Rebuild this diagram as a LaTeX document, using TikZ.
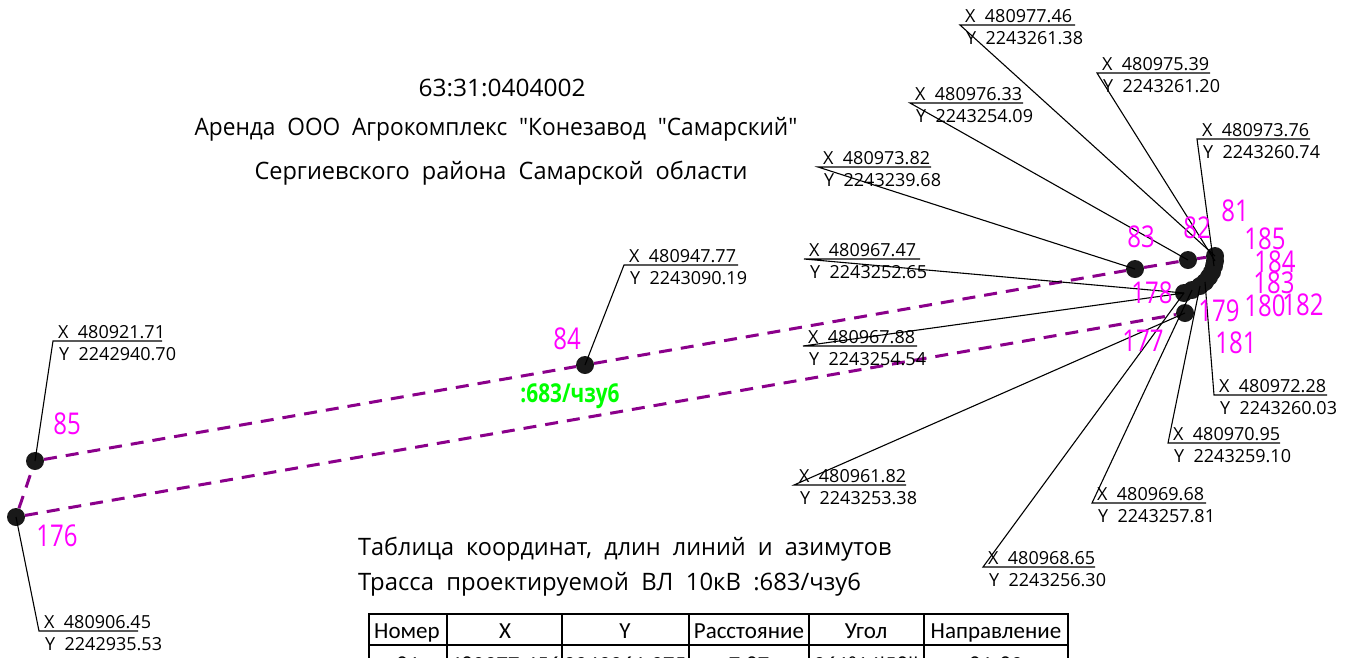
\documentclass[tikz,border=0pt]{standalone}
\usepackage{fontspec}
\setmainfont{Open Sans}
\newfontfamily\cadfont{Open Sans}
\newfontfamily\numfont[FakeStretch=0.8]{Open Sans}
\newfontfamily\cadnumfont[FakeStretch=1.02]{Open Sans}
\newfontfamily\ownerfont[FakeStretch=0.945]{Open Sans}
\newfontfamily\regionfont[FakeStretch=0.98]{Open Sans}
\newfontfamily\tabonefont[FakeStretch=0.976]{Open Sans}
\newfontfamily\tabtwofont[FakeStretch=0.993]{Open Sans}
\newfontfamily\greenfont[FakeStretch=0.8]{Open Sans}
\newfontfamily\tabfont{Carlito}
\definecolor{pinklabel}{RGB}{255,0,255}
\definecolor{purpleline}{RGB}{139,0,139}
\definecolor{greenlabel}{RGB}{0,255,0}
\tikzset{
  dot/.style = {circle, fill = black!90, minimum size = 18pt, inner sep = 0pt},
  num/.style = {text = pinklabel, font = \numfont\fontsize{30}{30}\selectfont, inner sep = 0pt},
  coordtext/.style = {font = \cadfont\fontsize{18}{18}\selectfont, inner sep = 0pt, anchor = base west},
  headline/.style = {inner sep = 0pt, anchor = base},
  tabletitle/.style = {inner sep = 0pt, anchor = base west},
  route/.style = {purpleline, line width = 3pt, dash pattern = on 13pt off 9pt},
  leader/.style = {line width = 1.1pt},
  tableline/.style = {line width = 2.6pt},
  cell/.style = {font = \tabfont\fontsize{23}{23}\selectfont, inner sep = 0pt, anchor = base}
}
\newcommand{\titlesize}{\fontsize{24}{24}\selectfont}
\begin{document}
\begin{tikzpicture}[x = 1pt, y = -1pt]
\useasboundingbox (0,0) rectangle (1355,657);
\clip (0,0) rectangle (1355,657);

% points
\foreach \name/\x/\y in {85/35/461, 176/16/517, 84/585/365, 83/1135/269, 82/1188/260, 177/1185/313,
  81/1215/256, 185/1215/261, 184/1214/266, 183/1212/272, 182/1209/277, 181/1205/282, 180/1200/286, 179/1192/290, 178/1184/293}
   \node[dot] (n\name) at (\x,\y) {};

% route
\draw[route] (n176) -- (n85);
\draw[route] (n85) -- (n84);
\draw[route] (n84) -- (n83);
\draw[route] (n83) -- (n82);
\draw[route] (n82) -- (n81);
\draw[route] (n176) -- (n177);

% leaders to the coordinate labels
\foreach \target/\ex/\ey/\ux/\xtxt/\ytxt in {
  85/53/341/162/480921.71/2242940.70,
  176/39/631/138/480906.45/2242935.53,
  84/624/265/738/480947.77/2243090.19,
  83/818/167/931/480973.82/2243239.68,
  82/910/103/1023/480976.33/2243254.09,
  81/960/25/1075/480977.46/2243261.38,
  185/1097/73/1210/480975.39/2243261.20,
  184/1197/139/1310/480973.76/2243260.74,
  178/804/259/920/480967.47/2243252.65,
  178/803/346/917/480967.88/2243254.54,
  181/1214/395/1327/480972.28/2243260.03,
  180/1168/443/1280/480970.95/2243259.10,
  179/1092/503/1206/480969.68/2243257.81,
  178/983/567/1095/480968.65/2243256.30,
  177/794/485/906/480961.82/2243253.38}{
   \coordinate (bend) at (\ex,\ey);
   \coordinate (uend) at (\ux,\ey);
   \draw[leader] (n\target.center) -- (bend) -- (uend);
   \node[coordtext] (x\xtxt) at (\ex+5,\ey-3) {X\ \ \xtxt};
   \node[coordtext] (y\ytxt) at (\ex+6,\ey+19) {Y\ \ \ytxt};
}

% point numbers
\foreach \txt/\x/\y in {81/1235/211, 82/1197/228, 83/1141/237, 84/567/339, 85/67/424, 176/57/536, 177/1143/341,
  178/1152/293, 179/1219/311, 180/1265/306, 181/1236/343, 182/1303/305, 183/1274/283, 184/1275/262, 185/1265/239}
   \node[num] (t\txt) at (\x,\y) {\txt};

\node[font = \greenfont\bfseries\fontsize{26}{26}\selectfont, text = greenlabel, inner sep = 0pt] (route name) at (570,396) {:683/чзу6};

% titles
\node[headline, font = \cadnumfont\titlesize] (cadnum) at (502,96) {63:31:0404002};
\node[headline, font = \ownerfont\titlesize] (owner) at (496,135) {Аренда\ \ ООО\ \ Агрокомплекс\ \ "Конезавод\ \ "Самарский"};
\node[headline, font = \regionfont\titlesize] (region) at (501,179) {Сергиевского\ \ района\ \ Самарской\ \ области};
\node[tabletitle, font = \tabonefont\titlesize] (tab1) at (358,555) {Таблица\ \ координат,\ \ длин\ \ линий\ \ и\ \ азимутов};
\node[tabletitle, font = \tabtwofont\titlesize] (tab2) at (358,590) {Трасса\ \ проектируемой\ \ ВЛ\ \ 10кВ\ \ :683/чзу6};

% table
\foreach \x in {369,447,562,689,809,924,1068}
   \draw[tableline] (\x,614) -- (\x,660);
\draw[tableline] (368,614) -- (1069,614);
\draw[tableline] (368,645) -- (1069,645);
\foreach \txt/\x in {Номер/407, X/505, Y/625, Расстояние/749, Угол/866, Направление/996}
   \node[cell] at (\x,638) {\txt};
\foreach \txt/\x in {81/408, 480977.456/505, 2243261.375/625, 7.87/749, 261°14'58''/866, 81-82/996}
   \node[cell] at (\x,672) {\txt};
\end{tikzpicture}
\end{document}
